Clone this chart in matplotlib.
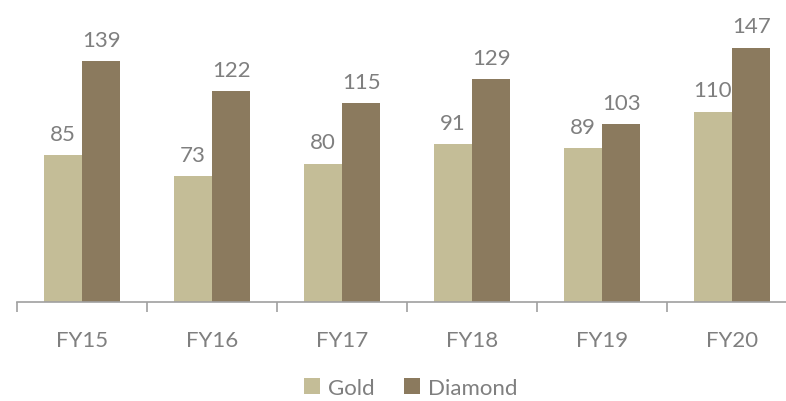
import matplotlib.pyplot as plt
import numpy as np

years = ["FY15", "FY16", "FY17", "FY18", "FY19", "FY20"]
gold = [85, 73, 80, 91, 89, 110]
diamond = [139, 122, 115, 129, 103, 147]

gold_color = "#C4BD97"
diamond_color = "#8B7A5E"
text_color = "#7F7F7F"

plt.rcParams['font.family'] = ['Lato', 'DejaVu Sans']

fig = plt.figure(figsize=(7.86, 4.02), dpi=100)
ax = fig.add_axes([17 / 786, 99 / 402, 780 / 786, 277 / 402])

x = np.arange(len(years))
w = 0.296
b1 = ax.bar(x - w / 2, gold, w, color=gold_color, label="Gold")
b2 = ax.bar(x + w / 2, diamond, w, color=diamond_color, label="Diamond")

# value labels above each bar
for bars in (b1, b2):
    for bar in bars:
        h = bar.get_height()
        ax.annotate(f"{h:.0f}", (bar.get_x() + bar.get_width() / 2, h),
                    xytext=(0, 8), textcoords="offset points",
                    ha="center", va="bottom", fontsize=16, color=text_color)

ax.set_xlim(-0.5, 5.5)
ax.set_ylim(0, 160)
ax.set_xticks(x)
ax.set_xticklabels(years, fontsize=16, color=text_color)
ax.set_xticks(np.arange(-0.5, 6, 1), minor=True)
ax.tick_params(axis="x", which="major", length=0, pad=20)
ax.tick_params(axis="x", which="minor", length=7, color="#A0A0A0", width=1.2)
ax.set_yticks([])
for s in ["top", "right", "left"]:
    ax.spines[s].set_visible(False)
ax.spines["bottom"].set_color("#A0A0A0")
ax.spines["bottom"].set_linewidth(1.2)

fig.legend(handles=[b1, b2], loc="center", bbox_to_anchor=(411 / 786, 1 - 389 / 402),
           ncol=2, frameon=False, fontsize=16, labelcolor=text_color,
           handlelength=0.7, handleheight=0.7, handletextpad=0.4, columnspacing=1.3)

plt.savefig("out.png", dpi=100)
